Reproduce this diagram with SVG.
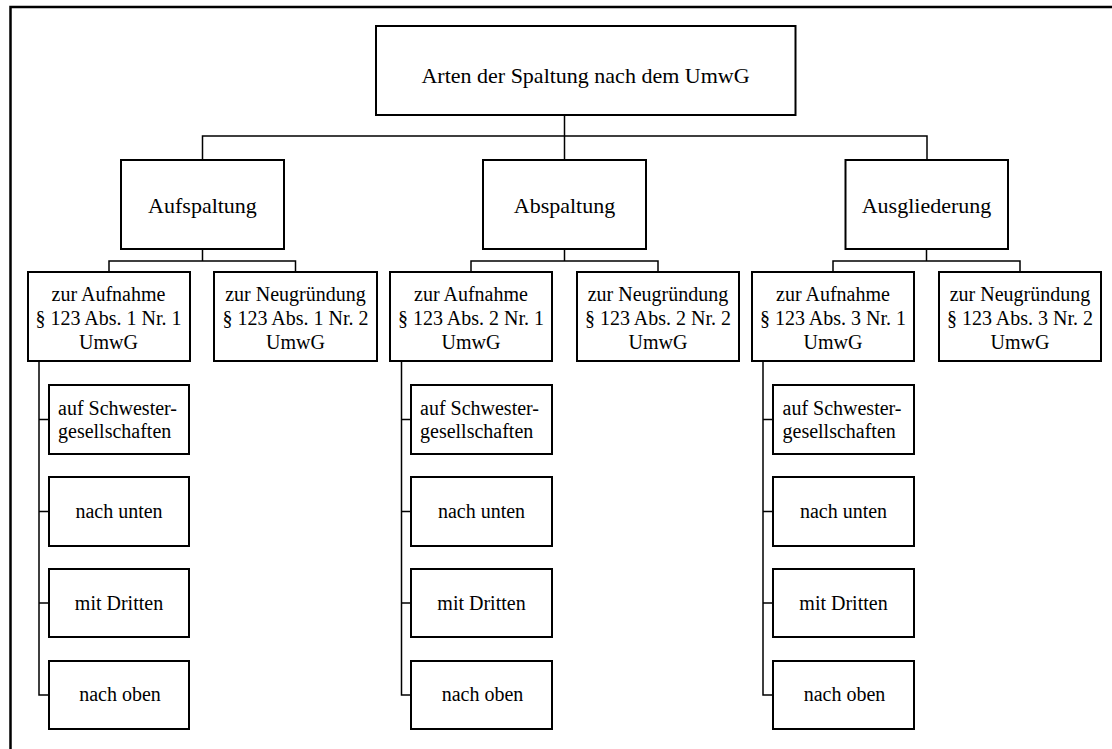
<svg xmlns="http://www.w3.org/2000/svg" width="1112" height="749" viewBox="0 0 1112 749" font-family="'Liberation Serif', 'DejaVu Serif', serif">
<style>
.box{fill:#fff;stroke:#000;stroke-width:2}
text{font-family:'Liberation Serif','DejaVu Serif',serif;fill:#000;text-anchor:middle}
.big{font-size:22px}
.sm{font-size:20px}
.l{text-anchor:start}
.c{fill:none;stroke:#000;stroke-width:1.5}
</style>
<rect width="1112" height="749" fill="#fff"/>
<path d="M10.5,749 V7 H1112" fill="none" stroke="#000" stroke-width="2.5"/>
<g id="connectors">
<path class="c" d="M564.5,115 V136 M202.5,160 V136 H927 V160 M564.5,136 V160"/>
<path class="c" d="M202.5,249 V261 M109,272 V261 H295.5 V272"/>
<path class="c" d="M564.5,249 V261 M471,272 V261 H658 V272"/>
<path class="c" d="M926.5,249 V261 M833,272 V261 H1020 V272"/>
<path class="c" d="M39,361 V695 H49 M39,419.5 H49 M39,511.5 H49 M39,603 H49"/>
<path class="c" d="M401.5,361 V695 H411 M401.5,419.5 H411 M401.5,511.5 H411 M401.5,603 H411"/>
<path class="c" d="M763,361 V695 H773 M763,419.5 H773 M763,511.5 H773 M763,603 H773"/>
</g>
<g id="root"><rect class="box" x="376" y="26" width="419.5" height="89"/><text class="big" x="585.5" y="83">Arten der Spaltung nach dem UmwG</text></g>
<g id="aufspaltung"><rect class="box" x="121" y="160" width="163" height="89"/><text class="big" x="202.5" y="213">Aufspaltung</text></g>
<g id="abspaltung"><rect class="box" x="483" y="160" width="163" height="89"/><text class="big" x="564.5" y="213">Abspaltung</text></g>
<g id="ausgliederung"><rect class="box" x="845.5" y="160" width="162.5" height="89"/><text class="big" x="926.5" y="213">Ausgliederung</text></g>

<g id="auf-aufnahme"><rect class="box" x="28" y="272" width="162" height="89"/><text class="sm" x="108.5" y="301">zur Aufnahme</text><text class="sm" x="108.5" y="325">§ 123 Abs. 1 Nr. 1</text><text class="sm" x="108.5" y="349">UmwG</text></g>
<g id="auf-neugruendung"><rect class="box" x="214" y="272" width="163" height="89"/><text class="sm" x="295.5" y="301">zur Neugründung</text><text class="sm" x="295.5" y="325">§ 123 Abs. 1 Nr. 2</text><text class="sm" x="295.5" y="349">UmwG</text></g>
<g id="ab-aufnahme"><rect class="box" x="390" y="272" width="162" height="89"/><text class="sm" x="471" y="301">zur Aufnahme</text><text class="sm" x="471" y="325">§ 123 Abs. 2 Nr. 1</text><text class="sm" x="471" y="349">UmwG</text></g>
<g id="ab-neugruendung"><rect class="box" x="577" y="272" width="162" height="89"/><text class="sm" x="658" y="301">zur Neugründung</text><text class="sm" x="658" y="325">§ 123 Abs. 2 Nr. 2</text><text class="sm" x="658" y="349">UmwG</text></g>
<g id="aus-aufnahme"><rect class="box" x="752" y="272" width="162" height="89"/><text class="sm" x="833" y="301">zur Aufnahme</text><text class="sm" x="833" y="325">§ 123 Abs. 3 Nr. 1</text><text class="sm" x="833" y="349">UmwG</text></g>
<g id="aus-neugruendung"><rect class="box" x="939" y="272" width="162" height="89"/><text class="sm" x="1020" y="301">zur Neugründung</text><text class="sm" x="1020" y="325">§ 123 Abs. 3 Nr. 2</text><text class="sm" x="1020" y="349">UmwG</text></g>

<g id="auf-schwester"><rect class="box" x="49" y="385" width="140" height="69"/><text class="sm l" x="58" y="415">auf Schwester-</text><text class="sm l" x="58" y="438">gesellschaften</text></g>
<g id="auf-unten"><rect class="box" x="49" y="477" width="140" height="69"/><text class="sm" x="119" y="518">nach unten</text></g>
<g id="auf-dritten"><rect class="box" x="49" y="569" width="140" height="68"/><text class="sm" x="119" y="610">mit Dritten</text></g>
<g id="auf-oben"><rect class="box" x="49" y="661" width="140" height="68"/><text class="sm" x="120" y="701">nach oben</text></g>

<g id="ab-schwester"><rect class="box" x="411" y="385" width="141" height="69"/><text class="sm l" x="420" y="415">auf Schwester-</text><text class="sm l" x="420" y="438">gesellschaften</text></g>
<g id="ab-unten"><rect class="box" x="411" y="477" width="141" height="69"/><text class="sm" x="481.5" y="518">nach unten</text></g>
<g id="ab-dritten"><rect class="box" x="411" y="569" width="141" height="68"/><text class="sm" x="481.5" y="610">mit Dritten</text></g>
<g id="ab-oben"><rect class="box" x="411" y="661" width="141" height="68"/><text class="sm" x="482.5" y="701">nach oben</text></g>

<g id="aus-schwester"><rect class="box" x="773" y="385" width="141" height="69"/><text class="sm l" x="782.5" y="415">auf Schwester-</text><text class="sm l" x="782.5" y="438">gesellschaften</text></g>
<g id="aus-unten"><rect class="box" x="773" y="477" width="141" height="69"/><text class="sm" x="843.5" y="518">nach unten</text></g>
<g id="aus-dritten"><rect class="box" x="773" y="569" width="141" height="68"/><text class="sm" x="843.5" y="610">mit Dritten</text></g>
<g id="aus-oben"><rect class="box" x="773" y="661" width="141" height="68"/><text class="sm" x="844.5" y="701">nach oben</text></g>
</svg>
